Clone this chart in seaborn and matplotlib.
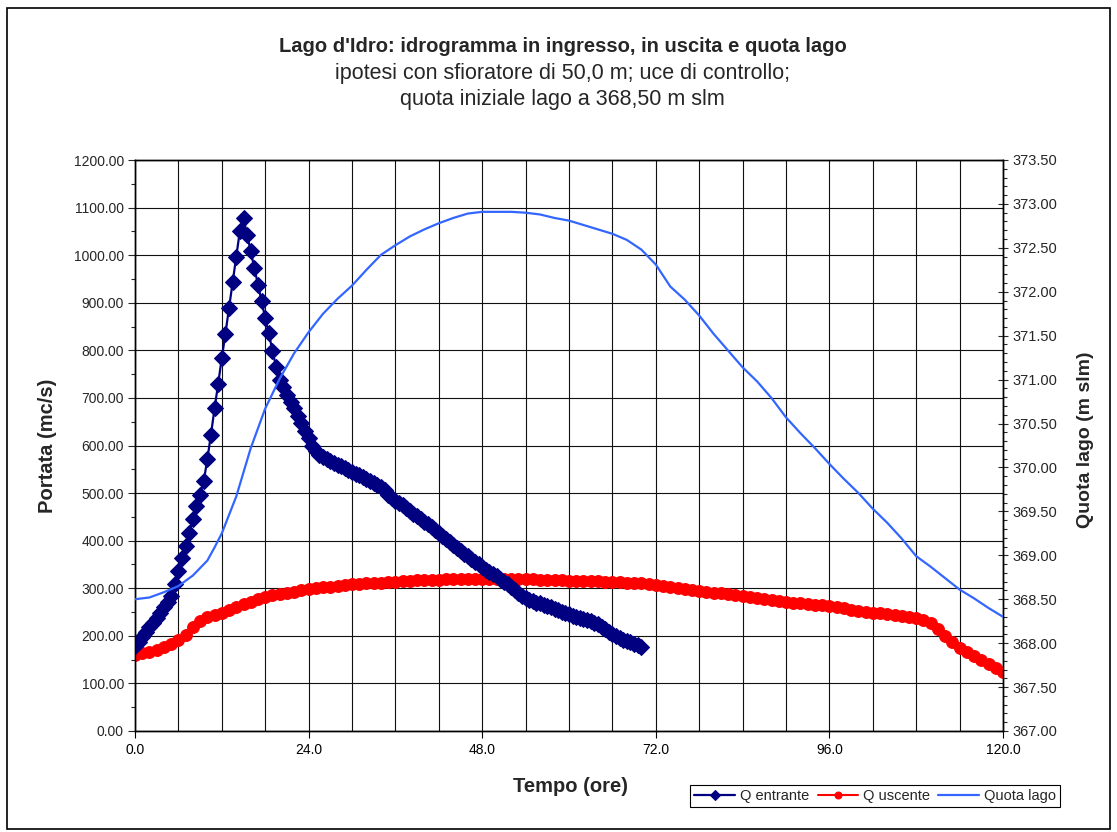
import numpy as np
import matplotlib
matplotlib.use("Agg")
import matplotlib.pyplot as plt
from matplotlib.ticker import MultipleLocator, FormatStrFormatter
from matplotlib.patches import Rectangle
import seaborn as sns

# ---------------- data ----------------
# Q entrante (mc/s), every 0.5 h from 0 to 70 h
t_in = np.arange(0, 70.5, 0.5)
q_in = [178, 188, 198, 208, 218, 228, 238, 249, 260, 271,
        284, 308, 336, 364, 389, 417, 445, 473, 497, 525,
        571, 623, 678, 730, 784, 835, 889, 943, 996, 1051,
        1078, 1043, 1008, 972, 938, 904, 868, 836, 799, 766,
        738,
        722, 706, 692, 679, 663, 647, 631, 615, 599, 588,
        581, 576, 571, 567, 564, 560, 557, 553, 549, 545,
        541, 537, 533, 529, 525, 521, 517, 513, 506, 497,
        489, 484, 479, 474, 469, 463, 457, 451, 446, 440,
        434, 429, 423, 416, 410, 404, 398, 391, 385, 379,
        373, 367, 361, 355, 350, 344, 339, 335, 330, 325,
        319, 313, 308, 302, 296, 290, 284, 279, 276, 273,
        270, 268, 265, 263, 260, 257, 254, 251, 248, 245,
        242, 239, 237, 235, 233, 231, 228, 224, 219, 214,
        208, 204, 200, 196, 192, 189, 186, 183, 180, 177]

# Q uscente (mc/s), every hour from 0 to 120 h
t_out = np.arange(0, 121, 1)
q_out = [160, 163, 167, 171, 176, 182, 191, 202, 218, 232,
         239, 244, 249, 255, 261, 266, 272, 277, 281, 285,
         288, 291, 293, 296, 298, 300, 302, 303, 305, 306,
         308, 309, 310, 311, 312, 313, 314, 315, 316, 317,
         317, 318, 318, 319, 319, 319, 320, 320, 320, 320,
         320, 320, 320, 320, 320, 319, 318, 318, 317, 317,
         316, 316, 315, 315, 315, 314, 314, 313, 312, 311,
         310, 308, 306, 304, 302, 300, 298, 296, 294, 292,
         291, 289, 287, 286, 284, 282, 280, 278, 276, 274,
         272, 270, 269, 267, 265, 264, 262, 260, 258, 255,
         253, 251, 249, 247, 245, 243, 241, 239, 237, 234,
         228, 215, 200, 186, 175, 166, 157, 149, 141, 133,
         124]

# Quota lago (m slm)
t_lake = [0, 2, 4, 6, 8, 10, 11, 12, 14, 16, 18, 20, 22, 24, 26, 28, 30,
          32, 34, 36, 38, 40, 42, 44, 46, 48, 50, 52, 54, 56, 58, 60, 62,
          64, 66, 68, 70, 72, 74, 76, 78, 80, 82, 84, 86, 88, 90, 92, 94,
          96, 98, 100, 102, 104, 106, 108, 110, 112, 114, 116, 118, 120]
h_lake = [368.50, 368.52, 368.58, 368.65, 368.77, 368.94, 369.09, 369.25,
          369.67, 370.22, 370.67, 371.01, 371.30, 371.54, 371.75, 371.92,
          372.07, 372.25, 372.42, 372.53, 372.63, 372.71, 372.78, 372.84,
          372.89, 372.91, 372.91, 372.91, 372.90, 372.88, 372.84, 372.81,
          372.76, 372.71, 372.66, 372.59, 372.48, 372.31, 372.06, 371.91,
          371.73, 371.52, 371.33, 371.14, 370.98, 370.79, 370.57, 370.39,
          370.22, 370.04, 369.87, 369.71, 369.53, 369.37, 369.19, 368.99,
          368.87, 368.74, 368.61, 368.51, 368.40, 368.30]

x_ticks = [0, 24, 48, 72, 96, 120]

title = "Lago d'Idro: idrogramma in ingresso, in uscita e quota lago"
sub1 = "ipotesi con sfioratore di 50,0 m; uce di controllo;"
sub2 = "quota iniziale lago a 368,50 m slm"

# ---------------- style ----------------
sns.set_style("white")
plt.rcParams['font.family'] = ['Liberation Sans', 'DejaVu Sans']
plt.rcParams['axes.unicode_minus'] = False

W, H = 1117, 832
fig = plt.figure(figsize=(W / 100, H / 100), dpi=100)
fig.patch.set_facecolor('white')

L, R, T, B = 135, 1003, 160, 731
ax = fig.add_axes([L / W, 1 - B / H, (R - L) / W, (B - T) / H])
ax2 = ax.twinx()

NAVY = '#000080'
RED = '#FF0000'
BLUE = '#3366FF'

sns.lineplot(x=t_out, y=q_out, ax=ax, color=RED, linewidth=1.5,
             marker='o', markersize=8.5, markeredgecolor=RED,
             markerfacecolor=RED, label='Q uscente', legend=False, zorder=3)
sns.lineplot(x=t_in, y=q_in, ax=ax, color=NAVY, linewidth=1.6,
             marker='D', markersize=8, markeredgecolor=NAVY,
             markerfacecolor=NAVY, label='Q entrante', legend=False, zorder=4)
sns.lineplot(x=t_lake, y=h_lake, ax=ax2, color=BLUE, linewidth=1.6,
             label='Quota lago', legend=False, zorder=5)

# axes ranges / ticks
ax.set_xlim(0, 120)
ax.set_ylim(0, 1200)
ax2.set_ylim(367.0, 373.5)

ax.set_xticks(x_ticks)
ax.set_xticklabels([f"{v:.1f}" for v in x_ticks])
ax.xaxis.set_minor_locator(MultipleLocator(6))
ax.yaxis.set_major_locator(MultipleLocator(100))
ax.yaxis.set_minor_locator(MultipleLocator(50))
ax.yaxis.set_major_formatter(FormatStrFormatter('%.2f'))
ax2.yaxis.set_major_locator(MultipleLocator(0.5))
ax2.yaxis.set_minor_locator(MultipleLocator(0.1))
ax2.yaxis.set_major_formatter(FormatStrFormatter('%.2f'))

ax.grid(True, which='major', axis='y', color='#111111', linewidth=0.8)
ax.grid(True, which='both', axis='x', color='#111111', linewidth=0.8)
ax.set_axisbelow(True)

ax.tick_params(axis='x', which='major', direction='out', length=5, width=0.8,
               labelsize=10, pad=4, colors='black', bottom=True)
ax.tick_params(axis='x', which='minor', length=0)
ax.tick_params(axis='y', which='major', direction='out', length=5, width=0.8,
               labelsize=10, pad=3, left=True)
ax.tick_params(axis='y', which='minor', direction='out', length=3, width=0.8, left=True)
ax2.tick_params(axis='y', which='major', direction='inout', length=7, width=0.8,
                labelsize=10.5, pad=3, right=True)
ax2.tick_params(axis='y', which='minor', direction='out', length=3, width=0.8, right=True)

for a in (ax, ax2):
    for s in a.spines.values():
        s.set_color('black')
        s.set_linewidth(1.0)

ax.set_xlabel("Tempo (ore)", fontsize=14.5, fontweight='bold')
ax.xaxis.set_label_coords(0.502, -0.098)
ax.xaxis.label.set_va('center')
ax.set_ylabel("Portata (mc/s)", fontsize=14.5, fontweight='bold')
ax.yaxis.set_label_coords(-0.1005, 0.50)
ax.yaxis.label.set_va('center')
ax2.set_ylabel("Quota lago (m slm)", fontsize=14, fontweight='bold', rotation=90)
ax2.yaxis.set_label_coords(1.0955, 0.51)
ax2.yaxis.label.set_va('center')

# titles
fig.text(0.5035, 1 - 46 / H, title, ha='center', va='center', fontsize=14.5, fontweight='bold')
fig.text(0.5035, 1 - 73 / H, sub1, ha='center', va='center', fontsize=15.5)
fig.text(0.5035, 1 - 99 / H, sub2, ha='center', va='center', fontsize=15.5)

# legend
h1, l1 = ax.get_legend_handles_labels()
h2, l2 = ax2.get_legend_handles_labels()
handles = dict(zip(l1 + l2, h1 + h2))
order = ['Q entrante', 'Q uscente', 'Quota lago']
leg = fig.legend([handles[k] for k in order], order, loc='center',
                 bbox_to_anchor=(875 / W, 1 - 796 / H), ncol=3, frameon=True,
                 fancybox=False, edgecolor='black', framealpha=1,
                 fontsize=10.5, handlelength=2.8, handletextpad=0.3,
                 columnspacing=0.6, borderpad=0.3, borderaxespad=0)
leg.get_frame().set_linewidth(0.8)
for lh in leg.legend_handles:
    try:
        lh.set_markersize(5)
    except Exception:
        pass

# outer chart border
fig.patches.append(Rectangle((7 / W, 0.004), 1 - 14 / W, 1 - 8 / H - 0.004,
                             transform=fig.transFigure, fill=False,
                             edgecolor='black', linewidth=1.2))

fig.savefig("out.png", dpi=100, facecolor='white')
